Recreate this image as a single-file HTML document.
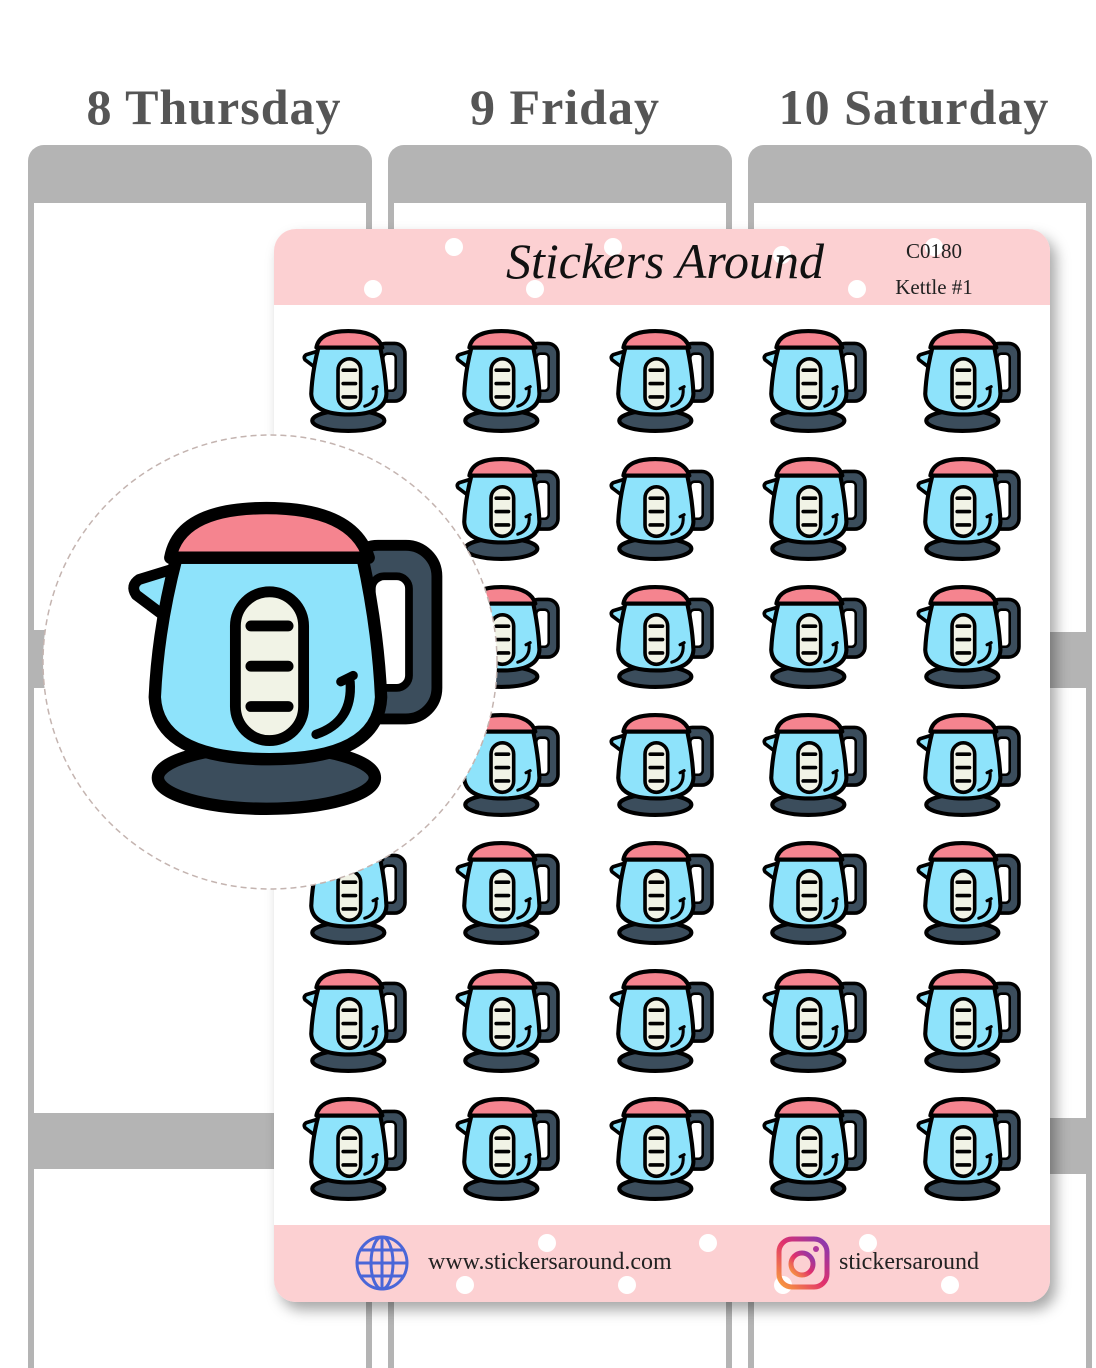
<!DOCTYPE html>
<html style="overflow:hidden;height:1368px"><head><meta charset="utf-8"><style>
body{margin:0;width:1096px;height:1368px;position:relative;background:#fff;overflow:hidden;font-family:"Liberation Serif",serif}
.abs{position:absolute}
.col{position:absolute;top:145px;width:344px;height:1223px;border-radius:16px 16px 0 0;background:#b4b4b4}
.col .in{position:absolute;left:6px;right:6px;top:58px;bottom:0;background:#fff}
.bar{position:absolute;background:#b4b4b4}
.day{position:absolute;top:78px;font-weight:bold;font-size:50px;color:#555;text-align:center;width:344px;letter-spacing:1px}
.sheet{position:absolute;left:274px;top:229px;width:776px;height:1073px;background:#fff;border-radius:22px;box-shadow:6px 8px 14px rgba(0,0,0,.35);overflow:hidden}
.pink{position:absolute;left:0;width:776px;background:#fcd0d2}
.dot{position:absolute;width:18px;height:18px;border-radius:50%;background:#fff}
</style></head><body>
<svg width="0" height="0" style="position:absolute">
<defs>
<g id="k">
<rect x="70" y="13" width="29" height="56" rx="10" fill="#3b4d5c" stroke="#000" stroke-width="3.5"/>
<rect x="78" y="23" width="12" height="36" rx="4" fill="#fff" stroke="#000" stroke-width="2.5"/>
<ellipse cx="44" cy="88" rx="35" ry="10" fill="#3b4d5c" stroke="#000" stroke-width="4"/>
<path d="M16,20 L3,24 Q0,26 2,29 L14,38 Z" fill="#8ee3fb" stroke="#000" stroke-width="3.5" stroke-linejoin="round"/>
<path d="M15,17 H75 Q80,40 81,62 Q80,82 45,82 Q9,82 8,62 Q9,40 15,17 Z" fill="#8ee3fb" stroke="#000" stroke-width="4" stroke-linejoin="round"/>
<path d="M13,17 Q16,1 44,1 Q72,1 77,17 Z" fill="#f5848f" stroke="#000" stroke-width="4" stroke-linejoin="round"/>
<rect x="34" y="28" width="22" height="48" rx="11" fill="#f1f3e6" stroke="#000" stroke-width="3.5"/>
<path d="M39,39H51M39,52H51M39,65H51" stroke="#000" stroke-width="3.5" stroke-linecap="round"/>
<path d="M71,57 Q72,70 60,74" stroke="#000" stroke-width="3" fill="none" stroke-linecap="round"/>
<path d="M68,57 L72,55" stroke="#000" stroke-width="3" stroke-linecap="round"/>
</g>
</defs></svg>

<div class="col" style="left:28px"><div class="in"></div></div>
<div class="col" style="left:388px"><div class="in"></div></div>
<div class="col" style="left:748px"><div class="in"></div></div>
<div class="bar" style="left:28px;top:1113px;width:344px;height:56px"></div>
<div class="bar" style="left:28px;top:630px;width:30px;height:58px"></div>
<div class="bar" style="left:748px;top:632px;width:344px;height:56px"></div>
<div class="bar" style="left:748px;top:1118px;width:344px;height:56px"></div>
<div class="day" style="left:42px">8 Thursday</div>
<div class="day" style="left:393px">9 Friday</div>
<div class="day" style="left:742px">10 Saturday</div>

<div class="sheet">
<div class="pink" style="top:0;height:76px"></div>
<div class="pink" style="top:996px;height:77px"></div>
<div class="dot" style="left:171px;top:9px"></div>
<div class="dot" style="left:90px;top:51px"></div>
<div class="dot" style="left:252px;top:51px"></div>
<div class="dot" style="left:330px;top:9px"></div>
<div class="dot" style="left:499px;top:17px"></div>
<div class="dot" style="left:574px;top:51px"></div>
<div class="dot" style="left:651px;top:9px"></div>
<div class="abs" style="left:232px;font-family:'URW Chancery L','Liberation Serif',cursive;font-style:italic;font-size:50px;line-height:60px;top:2px;color:#111">Stickers Around</div>
<div class="abs" style="left:600px;top:10px;width:120px;text-align:center;font-size:21px;color:#222">C0180</div>
<div class="abs" style="left:600px;top:46px;width:120px;text-align:center;font-size:21px;color:#222">Kettle #1</div>
<div class="dot" style="left:264px;top:1005px"></div><div class="dot" style="left:425px;top:1005px"></div>
<div class="dot" style="left:182px;top:1047px"></div><div class="dot" style="left:344px;top:1047px"></div>
<div class="dot" style="left:585px;top:1005px"></div><div class="dot" style="left:667px;top:1047px"></div><div class="dot" style="left:500px;top:1047px"></div>
<svg class="abs" style="left:80px;top:1006px" width="56" height="56" viewBox="0 0 56 56" fill="none" stroke="#4a66d8" stroke-width="3"><ellipse cx="28" cy="28" rx="25" ry="26"/><ellipse cx="28" cy="28" rx="11" ry="26"/><path d="M28,2V54M3,28H53M7,15H49M7,41H49"/></svg>
<div class="abs" style="left:154px;top:1020px;font-size:24px;color:#222">www.stickersaround.com</div>
<svg class="abs" style="left:502px;top:1007px" width="54" height="54" viewBox="0 0 54 54"><defs><linearGradient id="ig" x1="0" y1="1" x2="1" y2="0"><stop offset="0" stop-color="#f9a03c"/><stop offset=".5" stop-color="#e1306c"/><stop offset="1" stop-color="#833ab4"/></linearGradient></defs><rect x="3" y="3" width="48" height="48" rx="13" fill="none" stroke="url(#ig)" stroke-width="5"/><circle cx="26" cy="28" r="11" fill="none" stroke="url(#ig)" stroke-width="5"/><circle cx="40" cy="13" r="3" fill="#b0379c"/></svg>
<div class="abs" style="left:565px;top:1020px;font-size:24px;color:#222">stickersaround</div>
</div>

<svg class="abs" style="left:0;top:0" width="1096" height="1368">
<use href="#k" transform="translate(303,330) scale(1.03)"/><use href="#k" transform="translate(456,330) scale(1.03)"/><use href="#k" transform="translate(610,330) scale(1.03)"/><use href="#k" transform="translate(763,330) scale(1.03)"/><use href="#k" transform="translate(917,330) scale(1.03)"/>
<use href="#k" transform="translate(456,458) scale(1.03)"/><use href="#k" transform="translate(610,458) scale(1.03)"/><use href="#k" transform="translate(763,458) scale(1.03)"/><use href="#k" transform="translate(917,458) scale(1.03)"/>
<use href="#k" transform="translate(456,586) scale(1.03)"/><use href="#k" transform="translate(610,586) scale(1.03)"/><use href="#k" transform="translate(763,586) scale(1.03)"/><use href="#k" transform="translate(917,586) scale(1.03)"/>
<use href="#k" transform="translate(456,714) scale(1.03)"/><use href="#k" transform="translate(610,714) scale(1.03)"/><use href="#k" transform="translate(763,714) scale(1.03)"/><use href="#k" transform="translate(917,714) scale(1.03)"/>
<use href="#k" transform="translate(303,842) scale(1.03)"/><use href="#k" transform="translate(456,842) scale(1.03)"/><use href="#k" transform="translate(610,842) scale(1.03)"/><use href="#k" transform="translate(763,842) scale(1.03)"/><use href="#k" transform="translate(917,842) scale(1.03)"/>
<use href="#k" transform="translate(303,970) scale(1.03)"/><use href="#k" transform="translate(456,970) scale(1.03)"/><use href="#k" transform="translate(610,970) scale(1.03)"/><use href="#k" transform="translate(763,970) scale(1.03)"/><use href="#k" transform="translate(917,970) scale(1.03)"/>
<use href="#k" transform="translate(303,1098) scale(1.03)"/><use href="#k" transform="translate(456,1098) scale(1.03)"/><use href="#k" transform="translate(610,1098) scale(1.03)"/><use href="#k" transform="translate(763,1098) scale(1.03)"/><use href="#k" transform="translate(917,1098) scale(1.03)"/>
<circle cx="270" cy="662" r="227" fill="#fff" stroke="#c4b4b0" stroke-width="1.5" stroke-dasharray="6,4"/>
<use href="#k" transform="translate(130,505) scale(3.1)"/>
</svg>
</body></html>
